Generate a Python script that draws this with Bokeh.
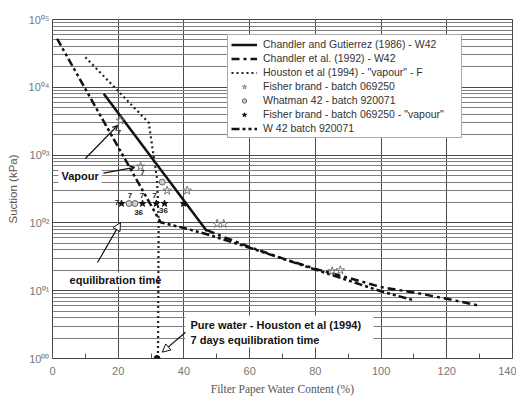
from bokeh.plotting import figure
from bokeh.models import (Range1d, Legend, LegendItem, Label, Arrow, NormalHead, OpenHead,
                          FixedTicker, SingleIntervalTicker, BoxAnnotation)
from bokeh.core.properties import value
from bokeh.embed import file_html
from bokeh.resources import INLINE

# ---------------- data ----------------
# Chandler and Gutierrez (1986) - W42 (solid)
cg_w = [15.6, 47.0]
cg_s = [8000, 75]

# Chandler et al. (1992) - W42 (dash-dot)
c92_w = [47, 50, 60, 70, 80, 90, 100, 110, 120, 130]
c92_s = [78, 68, 44, 30, 21, 15.5, 11.3, 9.4, 7.6, 6.0]

# Houston et al (1994) - "vapour" - F (dotted)
hou_w = [10.0, 29.3, 30.2, 31.8, 32.3, 32.1]
hou_s = [27800, 3000, 1500, 450, 110, 1.0]

# Fisher brand - batch 069250 (open stars)
fb_w = [20.7, 26.8, 34.9, 41.0, 50.1, 52.1, 85.1, 87.6]
fb_s = [3240, 680, 300, 300, 97, 97, 19.4, 20.0]

# Whatman 42 - batch 920071 (open circles)
wh_w = [23.3, 25.1, 33.4]
wh_s = [193, 193, 400]

# Fisher brand - batch 069250 - "vapour" (filled)
fv_w = [21.0, 27.4, 31.6, 34.1, 39.9]
fv_s = [193, 193, 193, 193, 193]

# W 42 batch 920071 (dash-dot-dot)
w42_w = [1.4, 32.9, 40, 47, 60, 80, 100, 110]
w42_s = [52000, 102, 84, 68, 43, 20.5, 9.8, 7.2]

# Pure water - Houston et al (1994)
pw_w = [31.8]
pw_s = [1.0]

# equilibration-time numbers next to points
num_w = [19.6, 23.6, 27.2, 31.0, 26.2, 33.8, 27.4, 20.2]
num_s = [200, 250, 250, 250, 140, 150, 560, 2150]
num_t = ["7", "7", "7", "7", "36", "36", "7", "7"]

x_ticks_interval = 20
y_ticks = [1, 10, 100, 1000, 10000, 100000]
y_tick_labels = ["10\u2070\u2070", "10\u2070\u00b9", "10\u2070\u00b2",
                 "10\u2070\u00b3", "10\u2070\u2074", "10\u2070\u2075"]
y_minor = [m * 10 ** k for k in range(5) for m in range(2, 10)]

legend_labels = [
    "Chandler and Gutierrez (1986) - W42",
    "Chandler et al. (1992) - W42",
    'Houston et al (1994) - "vapour" - F',
    "Fisher brand - batch 069250",
    "Whatman 42 - batch 920071",
    'Fisher brand - batch 069250 - "vapour"',
    "W 42 batch 920071",
]

# ---------------- figure ----------------
p = figure(width=516, height=403, x_range=Range1d(0, 140), y_range=Range1d(1, 1e5),
           y_axis_type="log", output_backend="svg", toolbar_location=None,
           min_border_left=52, min_border_right=4, min_border_top=19, min_border_bottom=45)
p.background_fill_color = "white"
p.border_fill_color = "white"
p.outline_line_color = "#444444"
p.outline_line_width = 1

p.xaxis.ticker = SingleIntervalTicker(interval=x_ticks_interval, num_minor_ticks=2)
p.yaxis.ticker = FixedTicker(ticks=y_ticks, minor_ticks=y_minor)
p.yaxis.major_label_overrides = {t: l for t, l in zip(y_ticks, y_tick_labels)}

for ax in (p.xaxis, p.yaxis):
    ax.axis_line_color = None
    ax.major_tick_in = 0
    ax.major_tick_out = 0
    ax.major_label_text_color = "#777777"
    ax.major_label_text_font = "Liberation Sans"
    ax.major_label_text_font_size = "11px"
    ax.axis_label_text_color = "#555555"
    ax.axis_label_text_font_style = "normal"
    ax.axis_label_text_font_size = "11.5px"

p.xaxis.minor_tick_in = 5
p.xaxis.minor_tick_out = 0
p.xaxis.minor_tick_line_color = "#555555"
p.yaxis.minor_tick_in = 0
p.yaxis.minor_tick_out = 0
p.xaxis.major_label_standoff = 8
p.yaxis.major_label_standoff = 3
p.xaxis.axis_label = "Filter Paper Water Content (%)"
p.xaxis.axis_label_text_font = "Liberation Serif"
p.xaxis.axis_label_standoff = 5
p.yaxis.axis_label = "Suction (kPa)"
p.yaxis.axis_label_text_font = "Liberation Sans"
p.yaxis.axis_label_standoff = 7

p.xgrid.grid_line_color = "#4a4a4a"
p.ygrid.grid_line_color = "#4a4a4a"
p.ygrid.minor_grid_line_color = "#7f7f7f"

# white box behind the pure-water note
p.add_layout(BoxAnnotation(left=40.4, right=97.7, bottom=1.45, top=4.3,
                           fill_color="white", fill_alpha=1, line_color=None, level="underlay"))

# ---------------- series ----------------
r_cg = p.line(cg_w, cg_s, line_color="#111111", line_width=2.5)
r_c92 = p.line(c92_w, c92_s, line_color="#111111", line_width=2.5, line_dash="8 4 3 4")
r_hou = p.line(hou_w, hou_s, line_color="#222222", line_width=2.2, line_dash="2 3")
r_w42 = p.line(w42_w, w42_s, line_color="#111111", line_width=2.5, line_dash="8 3 3 3 3 3")
r_fb = p.scatter(fb_w, fb_s, marker="star", size=9, fill_color=None,
                 line_color="#777777", line_width=1)
r_wh = p.scatter(wh_w, wh_s, marker="circle", size=6, fill_color="#cccccc",
                 line_color="#666666", line_width=1)
r_fv = p.scatter(fv_w, fv_s, marker="star", size=7, fill_color="#111111",
                 line_color="#111111")
p.scatter(pw_w, pw_s, marker="circle", size=6, fill_color="#111111", line_color="#111111")

p.text(num_w, num_s, text=num_t, text_font=value("Liberation Sans"), text_font_style="bold",
       text_font_size="8px", text_color="#222222", text_align="center", text_baseline="middle")

# ---------------- annotations ----------------
def note(x, y, txt, pad=2):
    p.add_layout(Label(x=x, y=y, text=txt, text_font="Liberation Sans", text_font_style="bold",
                       text_font_size="11px", text_color="#111111", text_baseline="middle",
                       text_align="left", background_fill_color="white", padding=pad,
                       level="underlay"))

note(1.8, 500, "Vapour", pad=3)
note(4.9, 14.6, "equilibration time", pad=1)
note(42.0, 3.17, "Pure water - Houston et al (1994)", pad=0)
note(42.0, 1.87, "7 days equilibration time", pad=0)

p.add_layout(Arrow(x_start=10.0, y_start=890, x_end=19.8, y_end=2730, line_width=1.2,
                   line_color="#111111", end=OpenHead(size=5, line_width=1.2, line_color="#111111")))
p.add_layout(Arrow(x_start=15.5, y_start=541, x_end=25.0, y_end=660, line_width=1.2,
                   line_color="#111111", end=OpenHead(size=5, line_width=1.2, line_color="#111111")))
p.add_layout(Arrow(x_start=13.7, y_start=26, x_end=20.7, y_end=101, line_width=1.2,
                   line_color="#111111",
                   end=NormalHead(size=8, fill_color="white", line_color="#111111", line_width=1)))
p.add_layout(Arrow(x_start=40.5, y_start=2.44, x_end=33.4, y_end=1.24, line_width=1.2,
                   line_color="#111111",
                   end=NormalHead(size=8, fill_color="white", line_color="#111111", line_width=1)))

# ---------------- legend ----------------
items = [LegendItem(label=l, renderers=[r]) for l, r in
         zip(legend_labels, [r_cg, r_c92, r_hou, r_fb, r_wh, r_fv, r_w42])]
legend = Legend(items=items, location=(175, 220), margin=0, padding=3, spacing=2,
                glyph_width=26, glyph_height=11, label_height=11, label_standoff=6,
                label_width=195,
                label_text_font="Liberation Sans", label_text_font_size="10.5px",
                label_text_color="#333333", border_line_color="#555555",
                border_line_width=1, background_fill_color="white", background_fill_alpha=1)
p.add_layout(legend, "center")

open("out.html", "w").write(file_html(p, INLINE))
